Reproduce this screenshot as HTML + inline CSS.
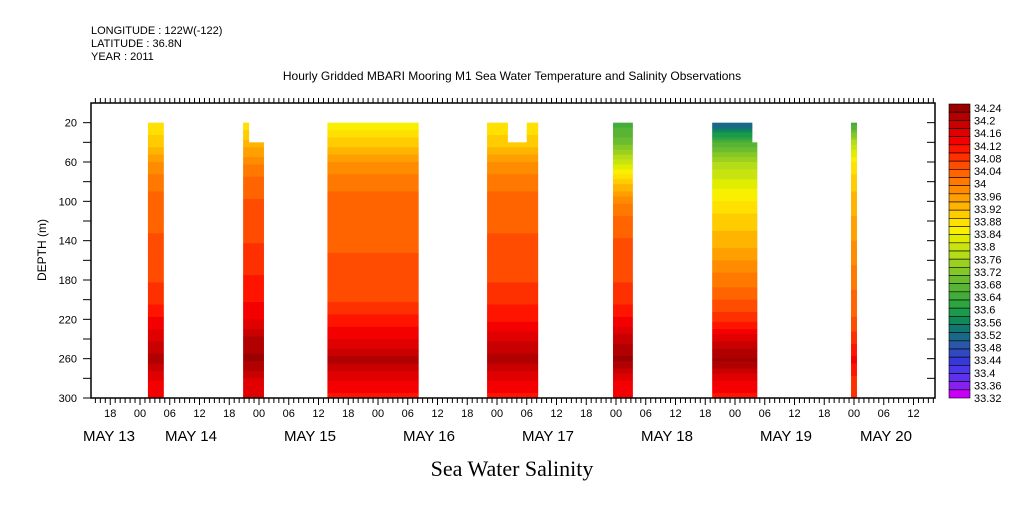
<!DOCTYPE html>
<html><head><meta charset="utf-8"><style>
body{margin:0;background:#fff;}
svg text{font-family:"Liberation Sans",sans-serif;}
</style></head><body>
<svg id="c" width="1009" height="504" xmlns="http://www.w3.org/2000/svg">
<g font-size="11" fill="#000">
<text x="91" y="34">LONGITUDE : 122W(-122)</text>
<text x="91" y="47">LATITUDE : 36.8N</text>
<text x="91" y="60">YEAR : 2011</text>
<text x="512" y="80" text-anchor="middle" font-size="12">Hourly Gridded MBARI Mooring M1 Sea Water Temperature and Salinity Observations</text>
<text x="512" y="476" text-anchor="middle" font-size="22" font-family="Liberation Serif" style="font-family:'Liberation Serif',serif">Sea Water Salinity</text>
<text transform="translate(46,250) rotate(-90)" text-anchor="middle" font-size="12">DEPTH (m)</text>
</g>
<g id="field"></g>
<g id="axes"></g>
<g id="cbar"></g>
</svg>
<script>
const depths=[20,40,60,80,100,120,140,160,180,200,220,240,260,280,300];
const blockNames=['block-may13','block-may14','block-may15','block-may16','block-may17','block-may18','block-may19'];
const blockStart=[1.6,20.8,37.8,70,95.4,115.4,143.4];
const blockEnd=[4.8,25.0,56.2,80.3,99.4,124.5,144.6];
const notchStart=[null,22.0,null,74.2,null,123.5,null];
const notchEnd=[null,25.0,null,78.0,null,124.5,null];
const profA=[33.86,33.90,33.96,34.00,34.02,34.03,34.04,34.05,34.06,34.08,34.12,34.16,34.20,34.14,34.12];
const profB=[33.86,33.92,33.98,34.02,34.04,34.05,34.06,34.08,34.09,34.11,34.14,34.20,34.22,34.16,34.14];
const profC=[33.84,33.90,33.96,34.00,34.02,34.02,34.03,34.04,34.04,34.06,34.10,34.14,34.20,34.14,34.10];
const profD=[33.86,33.90,33.96,34.00,34.02,34.03,34.04,34.05,34.06,34.08,34.11,34.16,34.20,34.14,34.10];
const profE=[33.64,33.70,33.80,33.90,33.98,34.02,34.04,34.05,34.06,34.08,34.12,34.18,34.22,34.14,34.12];
const profF=[33.50,33.66,33.76,33.82,33.86,33.90,33.92,33.96,34.00,34.04,34.08,34.16,34.22,34.14,34.10];
const profG=[33.64,33.78,33.86,33.90,33.92,33.94,33.96,33.98,34.00,34.02,34.04,34.08,34.12,34.08,34.06];
const profiles=[profA,profB,profC,profD,profE,profF,profG];
const cbarLabels=['34.24','34.2','34.16','34.12','34.08','34.04','34','33.96','33.92','33.88','33.84','33.8','33.76','33.72','33.68','33.64','33.6','33.56','33.52','33.48','33.44','33.4','33.36','33.32'];
const colors=['#9a0000','#b00000','#c80000','#e00000','#f40000','#ff1400','#ff3000','#ff4c00','#ff6400','#ff7800','#ff8c00','#ffa000','#ffb400','#ffcc00','#ffe000','#f8f000','#e0ec00','#c8e410','#b4dc18','#9cd020','#84c828','#6cbc30','#58b434','#44ac38','#2ca440','#1c9a4c','#108858','#107870','#1a6888','#2a58a8','#3048c0','#3838d8','#4838e8','#6030f0','#8820f0','#c800f8'];
const NS="http://www.w3.org/2000/svg";
const X0=91,X1=935,Y0=103,Y1=398;
const xs=t=>140+t*119/24;
const ys=d=>Y0+(d/300)*(Y1-Y0);
const vmin=33.32,vmax=34.24;
function col(v){let f=(vmax-v)/(vmax-vmin);f=Math.max(0,Math.min(0.9999,f));return colors[Math.floor(f*colors.length)];}
function mk(tag,attrs,parent){const e=document.createElementNS(NS,tag);for(const k in attrs)e.setAttribute(k,attrs[k]);parent.appendChild(e);return e;}
const field=document.getElementById('field');
profiles.forEach((p,i)=>{
  const g=mk('g',{},field);
  
  
  const x0=xs(blockStart[i]),x1=xs(blockEnd[i]);
  for(let d=20;d<300;d+=2.5){
    const k=Math.min(13,Math.floor((d-20)/20));const fr=(d-20-k*20)/20;
    const v=p[k]+(p[k+1]-p[k])*fr;
    let ya=ys(d),yb=ys(d+2.5);
    if(notchStart[i]!==null&&d<40){
      const nx0=xs(notchStart[i]),nx1=xs(notchEnd[i]);
      if(nx0>x0)mk('rect',{x:x0,y:ya,width:nx0-x0,height:yb-ya+0.5,fill:col(v)},g);
      if(nx1<x1)mk('rect',{x:nx1,y:ya,width:x1-nx1,height:yb-ya+0.5,fill:col(v)},g);
    } else mk('rect',{x:x0,y:ya,width:x1-x0,height:yb-ya+0.5,fill:col(v)},g);
  }
});
const ax=document.getElementById('axes');
const frame=mk('rect',{x:X0,y:Y0,width:X1-X0,height:Y1-Y0,fill:'none',stroke:'#000','stroke-width':1.5},ax);


for(let t=-9;t<=160;t++){
  const x=xs(t);if(x<X0||x>X1)continue;
  const major=((t%6)+6)%6===0;
  mk('line',{x1:x,x2:x,y1:Y1,y2:Y1+(major?7:5),stroke:'#000'},ax);
  mk('line',{x1:x,x2:x,y1:Y0,y2:Y0-5,stroke:'#000'},ax);
  if(major){const hh=((t%24)+24)%24;const tx=mk('text',{x:x,y:Y1+19,'text-anchor':'middle','font-size':11},ax);tx.textContent=String(hh).padStart(2,'0');
  }
}
const dayLabels=['MAY 13','MAY 14','MAY 15','MAY 16','MAY 17','MAY 18','MAY 19','MAY 20'];
const dayX=[83,165,284,403,522,641,760,860];
dayLabels.forEach((s,i)=>{const tx=mk('text',{x:dayX[i],y:Y1+43,'font-size':15},ax);tx.textContent=s;
});
for(let d=20;d<=300;d+=20){
  const y=ys(d);
  mk('line',{x1:X0,x2:X0-8,y1:y,y2:y,stroke:'#000'},ax);
  mk('line',{x1:X1,x2:X1-8,y1:y,y2:y,stroke:'#000'},ax);
  if((d-20)%40===0){const tx=mk('text',{x:X0-14,y:y+4,'text-anchor':'end','font-size':11},ax);tx.textContent=d;
  }
}
const cb=document.getElementById('cbar');


const cy0=104,cy1=398,n=colors.length,h=(cy1-cy0)/n;
colors.forEach((c,i)=>{mk('rect',{x:949,y:cy0+i*h,width:21,height:h,fill:c,stroke:'#000','stroke-width':0.6},cb);});
cbarLabels.forEach((s,i)=>{const y=108+i*(398-108)/(cbarLabels.length-1);const tx=mk('text',{x:974,y:y+4,'font-size':11},cb);tx.textContent=s;
});
</script>
</body></html>
